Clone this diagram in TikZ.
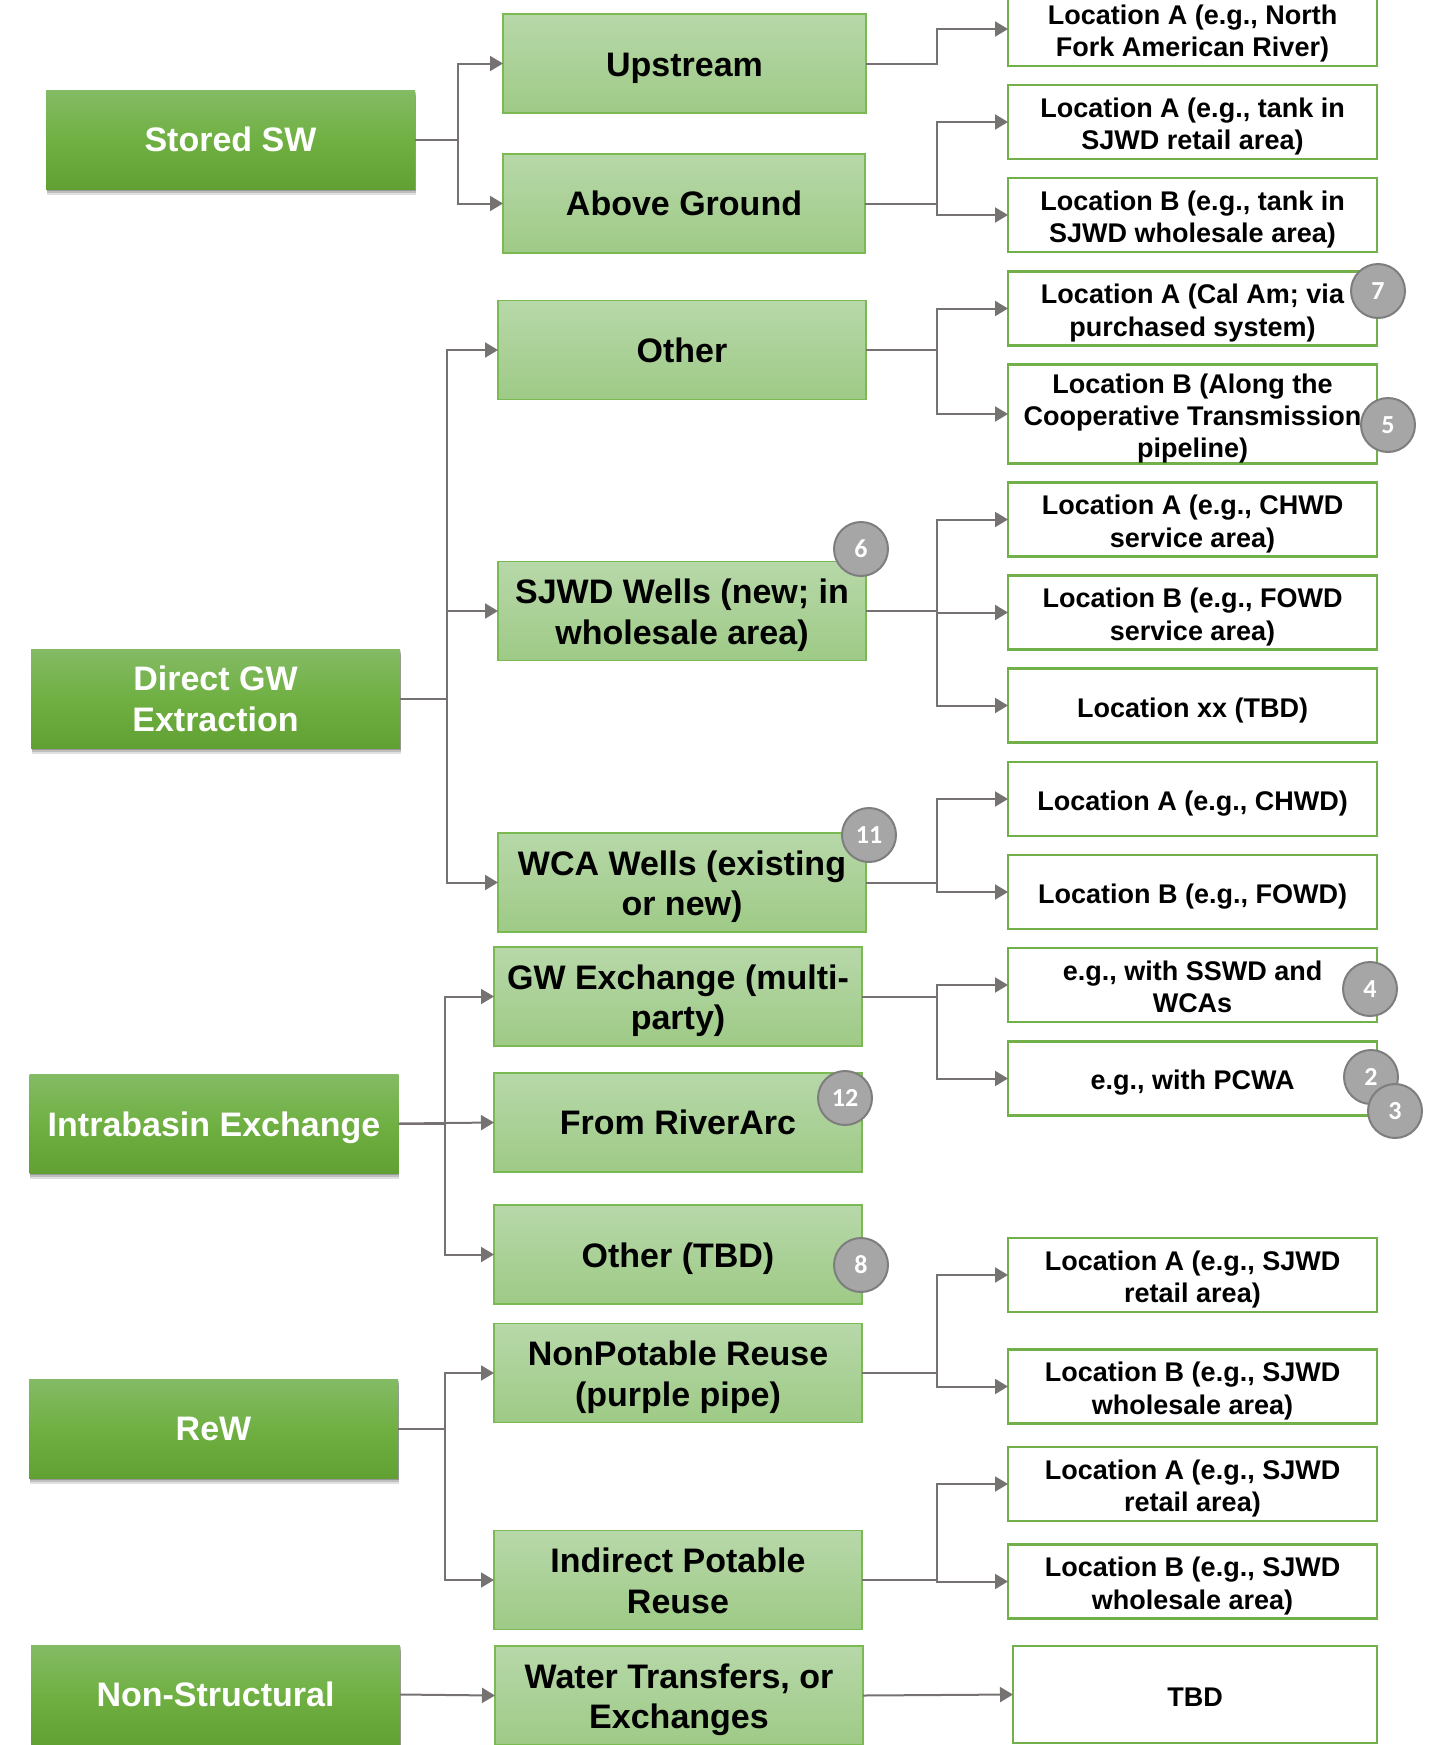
\documentclass[tikz,border=0pt]{standalone}
\usepackage{fontspec}
\setmainfont{Liberation Sans}
\newfontfamily\badgefont{Carlito}
\usetikzlibrary{arrows.meta,shadows,calc}
\definecolor{lgA}{HTML}{84BB65}
\definecolor{lgB}{HTML}{70B043}
\definecolor{lgC}{HTML}{61A133}
\definecolor{mgA}{HTML}{B7D8A9}
\definecolor{mgB}{HTML}{9ECA86}
\definecolor{mgBorder}{HTML}{7BBA52}
\definecolor{rBorder}{HTML}{72B04A}
\definecolor{connc}{HTML}{777272}
\definecolor{bFill}{HTML}{A6A6A6}
\definecolor{bDraw}{HTML}{7E7E7E}
\newcommand\rpad{\rule{0pt}{14.3pt}}
\newcommand\mpad{\rule{0pt}{16.6pt}}
\newcommand\tpad{\rule{0pt}{12pt}}
\newcommand\mdep{\rule[-3.6pt]{0pt}{3.6pt}}
\newcommand\rdep{\rule[-2.8pt]{0pt}{2.8pt}}
\tikzset{
  leftbox/.style={top color=lgA, bottom color=lgC, middle color=lgB,
    drop shadow={shadow xshift=0.3pt, shadow yshift=-3.2pt, opacity=0.12, fill=black},
    drop shadow={shadow xshift=0.3pt, shadow yshift=-2.2pt, opacity=0.15, fill=black},
    drop shadow={shadow xshift=0.3pt, shadow yshift=-1.2pt, opacity=0.2, fill=black},
    minimum width=184.5pt, minimum height=49.5pt, inner sep=0pt, outer sep=0pt,
    align=center, text=white, font=\fontsize{17}{20.5}\selectfont\bfseries},
  midbox/.style={top color=mgA, bottom color=mgB, draw=mgBorder, line width=0.75pt,
    minimum width=184pt, minimum height=49.5pt, inner sep=0pt, outer sep=0pt,
    align=center, font=\fontsize{17}{20.3}\selectfont\bfseries},
  rbox/.style={draw=rBorder, fill=white, line width=1.1pt,
    minimum width=184.5pt, minimum height=37pt, inner sep=0pt, outer sep=0pt,
    align=center, font=\fontsize{13.5}{16.2}\selectfont\bfseries},
  badge/.style={circle, fill=bFill, draw=bDraw, line width=1pt, minimum size=27pt,
    inner sep=0pt, text=white, font=\badgefont\fontsize{13}{13}\selectfont\bfseries},
  conn/.style={draw=connc, line width=1pt, -{Triangle[length=6.5pt,width=7.5pt]}}
}
\begin{document}
\begin{tikzpicture}[x=0.5pt,y=-0.5pt]
\fill[white] (0,0) rectangle (1437,1745);
\useasboundingbox (0,0) rectangle (1437,1745);

% left column
\node[leftbox] (stored) at (230.5,139.5) {Stored SW};
\node[leftbox] (direct) at (215.5,698.5) {Direct GW\\Extraction};
\node[leftbox] (intra) at (214,1123.5) {\mpad Intrabasin Exchange};
\node[leftbox] (rew) at (213.5,1428.5) {ReW};
\node[leftbox] (nonstr) at (215.5,1694.5) {Non-Structural};

% middle column
\node[midbox, minimum width=181.5pt] (up) at (684.5,63.5) {\mpad Upstream};
\node[midbox, minimum width=181pt] (ag) at (684,203.5) {Above Ground};
\node[midbox] (oth) at (682,350) {Other};
\node[midbox] (sjwd) at (682,611) {\mpad SJWD Wells (new; in\\wholesale area)};
\node[midbox] (wca) at (682,882.5) {\mpad WCA Wells (existing\\or new)};
\node[midbox] (gwx) at (678,996.5) {\mpad GW Exchange (multi-\\party)};
\node[midbox] (riv) at (678,1122.5) {From RiverArc};
\node[midbox] (otbd) at (678,1254.5) {\mpad Other (TBD)};
\node[midbox] (npr) at (678,1373) {\mpad NonPotable Reuse\\(purple pipe)};
\node[midbox] (ipr) at (678,1580) {\mpad Indirect Potable\\Reuse\mdep};
\node[midbox] (wtr) at (679,1695.5) {\mpad Water Transfers, or\\Exchanges};

% right column
\node[rbox] (r1) at (1192.5,29) {\rpad Location A (e.g., North\\Fork American River)};
\node[rbox] (r2) at (1192.5,122) {\rpad Location A (e.g., tank in\\SJWD retail area)};
\node[rbox] (r3) at (1192.5,215) {\rpad Location B (e.g., tank in\\SJWD wholesale area)};
\node[rbox] (r4) at (1192.5,308.5) {\rpad Location A (Cal Am; via\\purchased system)};
\node[rbox, minimum height=49pt] (r5) at (1192.5,414) {\rpad Location B (Along the\\Cooperative Transmission\\pipeline)};
\node[rbox] (r6) at (1192.5,519.5) {\rpad Location A (e.g., CHWD\\service area)};
\node[rbox] (r7) at (1192.5,612.5) {\rpad Location B (e.g., FOWD\\service area)};
\node[rbox] (r8) at (1192.5,705.5) {\rpad Location xx (TBD)};
\node[rbox] (r9) at (1192.5,799) {\rpad Location A (e.g., CHWD)};
\node[rbox] (r10) at (1192.5,892) {\rpad Location B (e.g., FOWD)};
\node[rbox] (r11) at (1192.5,985) {\rpad e.g., with SSWD and\\WCAs\rdep};
\node[rbox] (r12) at (1192.5,1078.5) {\rpad e.g., with PCWA};
\node[rbox] (r13) at (1192.5,1275) {\rpad Location A (e.g., SJWD\\retail area)};
\node[rbox] (r14) at (1192.5,1386.5) {\rpad Location B (e.g., SJWD\\wholesale area)};
\node[rbox] (r15) at (1192.5,1484) {\rpad Location A (e.g., SJWD\\retail area)};
\node[rbox] (r16) at (1192.5,1581.5) {\rpad Location B (e.g., SJWD\\wholesale area)};
\node[rbox, minimum width=182pt, minimum height=48.5pt] (tbd) at (1195,1694.5) {\tpad TBD};

% junction columns
\coordinate (jA) at (458,0);
\coordinate (jB) at (447,0);
\coordinate (jC) at (445,0);
\coordinate (jR) at (936.5,0);

% left connectors
\draw[conn] (stored.east) -- (stored.east -| jA) |- (up.west);
\draw[conn] (stored.east) -- (stored.east -| jA) |- (ag.west);
\draw[conn] (direct.east) -- (direct.east -| jB) |- (oth.west);
\draw[conn] (direct.east) -- (direct.east -| jB) |- (sjwd.west);
\draw[conn] (direct.east) -- (direct.east -| jB) |- (wca.west);
\draw[conn] (intra.east) -- (intra.east -| jC) |- (gwx.west);
\draw[conn] (intra.east) -- (riv.west);
\draw[conn] (intra.east) -- (intra.east -| jC) |- (otbd.west);
\draw[conn] (rew.east) -- (rew.east -| jC) |- (npr.west);
\draw[conn] (rew.east) -- (rew.east -| jC) |- (ipr.west);
\draw[conn] (nonstr.east) -- (wtr.west);

% right connectors
\draw[conn] (up.east) -- (up.east -| jR) |- (r1.west);
\draw[conn] (ag.east) -- (ag.east -| jR) |- (r2.west);
\draw[conn] (ag.east) -- (ag.east -| jR) |- (r3.west);
\draw[conn] (oth.east) -- (oth.east -| jR) |- (r4.west);
\draw[conn] (oth.east) -- (oth.east -| jR) |- (r5.west);
\draw[conn] (sjwd.east) -- (sjwd.east -| jR) |- (r6.west);
\draw[conn] (sjwd.east) -- (sjwd.east -| jR) |- (r7.west);
\draw[conn] (sjwd.east) -- (sjwd.east -| jR) |- (r8.west);
\draw[conn] (wca.east) -- (wca.east -| jR) |- (r9.west);
\draw[conn] (wca.east) -- (wca.east -| jR) |- (r10.west);
\draw[conn] (gwx.east) -- (gwx.east -| jR) |- (r11.west);
\draw[conn] (gwx.east) -- (gwx.east -| jR) |- (r12.west);
\draw[conn] (npr.east) -- (npr.east -| jR) |- (r13.west);
\draw[conn] (npr.east) -- (npr.east -| jR) |- (r14.west);
\draw[conn] (ipr.east) -- (ipr.east -| jR) |- (r15.west);
\draw[conn] (ipr.east) -- (ipr.east -| jR) |- (r16.west);
\draw[conn] (wtr.east) -- (tbd.west);

% badges
\node[badge] (b6) at (861,549) {6};
\node[badge] (b11) at (869,835) {11};
\node[badge] (b12) at (845,1098) {12};
\node[badge] (b8) at (861,1265) {8};
\node[badge] (b7) at (1378,291) {7};
\node[badge] (b5) at (1388,425) {5};
\node[badge] (b4) at (1370,989) {4};
\node[badge] (b2) at (1371,1077) {2};
\node[badge] (b3) at (1395,1111) {3};
\end{tikzpicture}
\end{document}
